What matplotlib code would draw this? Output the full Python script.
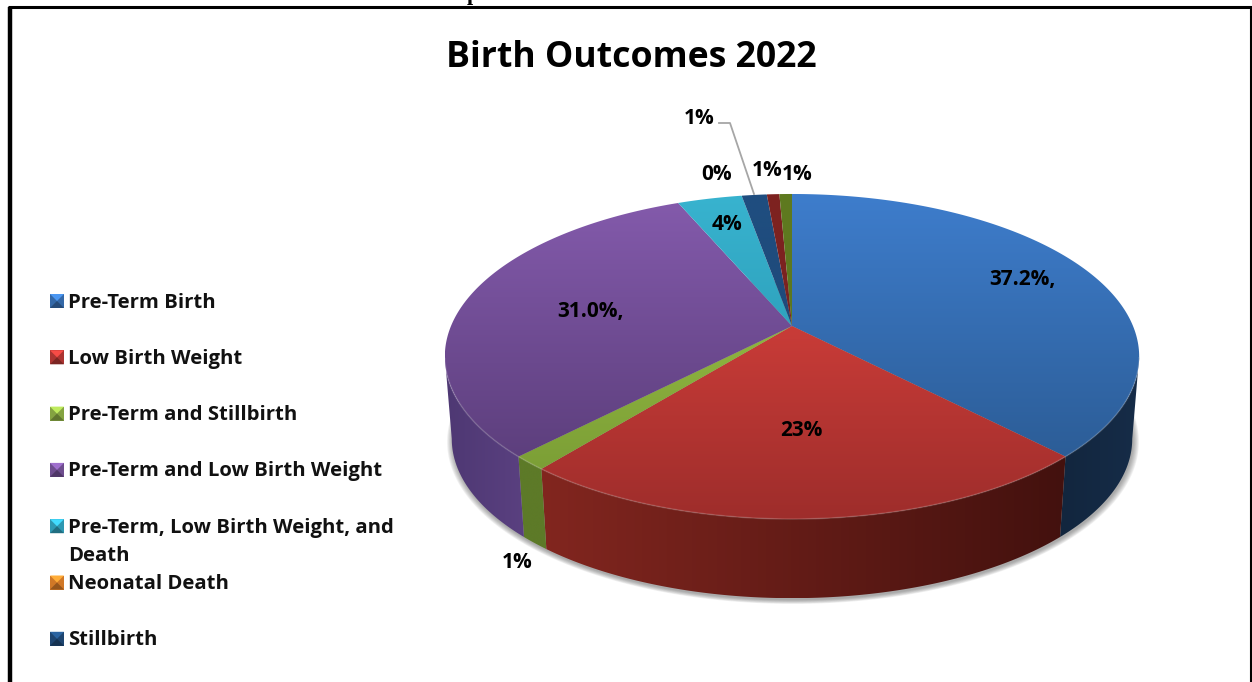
import numpy as np
import matplotlib
matplotlib.use("Agg")
import matplotlib.pyplot as plt
from matplotlib.colors import to_rgb
from matplotlib.patches import Polygon

# ---- data ----
title = "Birth Outcomes 2022"
legend_labels = ["Pre-Term Birth", "Low Birth Weight", "Pre-Term and Stillbirth",
                 "Pre-Term and Low Birth Weight",
                 "Pre-Term, Low Birth Weight, and\nDeath", "Neonatal Death", "Stillbirth"]
slice_values = [37.8, 23.0, 1.4, 31.4, 3.6, 0.0, 1.4, 0.7, 0.7]
value_labels = ["37.2%,", "23%", "1%", "31.0%,", "4%", "0%", "1%", "1%", "1%"]

# ---- style ----
FONT = "Open Sans"
top_light = ["#3E7DCC", "#C93C38", "#8FB540", "#835AAB", "#38B3CF", "#E8862C", "#1F4E80", "#7E2320", "#5F7A20"]
top_dark = ["#2C5D97", "#9E2D2B", "#7C9F36", "#5D3F7D", "#2FA3BE", "#D07420", "#1F4A7A", "#7A2220", "#5C771F"]
side_left = ["#12263E", "#82261F", "#5D7A28", "#4E3873", "#1F7085", "#8A4A10", "#12263E", "#4A100E", "#3D4F14"]
side_right = ["#162C48", "#43110E", "#5D7A28", "#5A4080", "#1F7085", "#8A4A10", "#12263E", "#4A100E", "#3D4F14"]
legend_colors = ["#3A74BA", "#BE3A36", "#93B548", "#7A559E", "#33A9C6", "#E8852B", "#214D7C"]
label_pos = [(1022, 279), (801, 431), (517, 562), (590, 311), (727, 224),
             (717, 174), (699, 118), (767, 171), (797, 174)]

# projective view of the unit disc
CX, CY, A, B, K = 792.0, 326.0, 341.0, 156.8, 0.1877
SHRINK, DROP = 0.98, 83.0


def rim(theta, scale=1.0):
    u, v = np.sin(theta) * scale, np.cos(theta) * scale
    w = 1 + K * v
    return CX + A * u / w, CY - B * v / w


def base(theta, scale=1.0):
    x, y = rim(theta, scale)
    return CX + (x - CX) * SHRINK, CY + DROP + (y - CY) * SHRINK


fig = plt.figure(figsize=(12.52, 6.82), dpi=100)
ax = fig.add_axes([0, 0, 1, 1])
ax.axis("off")


def grad_fill(xs, ys, c0, c1, vertical=True, zorder=2):
    x0, x1 = (xs.min(), xs.max())
    y0, y1 = (ys.min(), ys.max())
    t = np.linspace(0, 1, 128)
    rgb = np.outer(1 - t, to_rgb(c0)) + np.outer(t, to_rgb(c1))
    img = rgb[:, None, :] if vertical else rgb[None, :, :]
    im = ax.imshow(img, extent=(x0, x1, y1, y0), origin="upper", aspect="auto",
                   interpolation="bilinear", zorder=zorder)
    poly = Polygon(np.column_stack([xs, ys]), closed=True, transform=ax.transData,
                   fc="none", ec="none")
    ax.add_patch(poly)
    im.set_clip_path(poly)


# soft shadow
full = np.linspace(0, 2 * np.pi, 400)
for i, s in enumerate(np.linspace(1.016, 1.0, 7)):
    bx, by = base(full, s)
    ax.fill(bx + 1, by + 2, color="#555555", alpha=0.09, lw=0, zorder=1)

fractions = np.array(slice_values) / sum(slice_values)
edges = np.concatenate([[0], np.cumsum(fractions)]) * 2 * np.pi
# the wall is visible between the two horizontal extremes of the rim
EXT = np.arccos(-K)
VIS0, VIS1 = EXT, 2 * np.pi - EXT

# side walls
for i in range(len(slice_values)):
    a0, a1 = max(edges[i], VIS0), min(edges[i + 1], VIS1)
    if a1 <= a0:
        continue
    th = np.linspace(a0, a1, 120)
    tx, ty = rim(th)
    bx, by = base(th)
    xs = np.concatenate([tx, bx[::-1]])
    ys = np.concatenate([ty, by[::-1]])
    grad_fill(xs, ys, side_left[i], side_right[i], vertical=False, zorder=2)

# top faces
for i in range(len(slice_values)):
    if fractions[i] == 0:
        continue
    th = np.linspace(edges[i], edges[i + 1], 160)
    tx, ty = rim(th)
    xs = np.concatenate([[CX], tx])
    ys = np.concatenate([[CY], ty])
    grad_fill(xs, ys, top_light[i], top_dark[i], vertical=True, zorder=3)
    # lit bevel along the front of the rim
    front = (th > VIS0) & (th < VIS1)
    if front.any():
        ax.plot(tx[front], ty[front], color="white", alpha=0.14, lw=1.2, zorder=4,
                solid_capstyle="butt")

# leader line
ax.plot([719, 730, 754], [123, 123, 194], color="#A6A6A6", lw=1.3, zorder=5)

# value labels
for (lx, ly), txt in zip(label_pos, value_labels):
    ax.text(lx, ly, txt, ha="center", va="center", fontsize=15, fontweight="bold",
            family=FONT, color="black", zorder=6)

# legend
for i, (lab, col) in enumerate(zip(legend_labels, legend_colors)):
    yc = 301 + 56.3 * i
    x0, x1, y0, y1 = 50, 64, yc - 7, yc + 7
    xm, ym = (x0 + x1) / 2, (y0 + y1) / 2
    c = np.array(to_rgb(col))
    ax.fill([x0, x1, x1, x0], [y0, y0, y1, y1], color=c * 0.9, lw=0, zorder=5)
    ax.fill([x0, x1, xm], [y0, y0, ym], color=np.clip(c * 1.3, 0, 1), lw=0, zorder=6)
    ax.fill([x0, x1, xm], [y1, y1, ym], color=c * 0.65, lw=0, zorder=6)
    for j, part in enumerate(lab.split("\n")):
        ax.text(68, yc + 1.5 + j * 28.5, part, ha="left", va="center", fontsize=14.6,
                fontweight="bold", family=FONT, color="#111111", zorder=6)

# title
ax.text(631, 58, title, ha="center", va="center", fontsize=25.7, fontweight="bold",
        family=FONT, color="black", zorder=6)

# descender of the page text cut off above the chart
ax.text(473, 0, "p", ha="center", va="baseline", fontsize=16, fontweight="bold",
        family="Liberation Serif", color="black", zorder=6)

# frame of the clipped page
ax.plot([9.5, 9.5], [682, 7], color="black", lw=3.2, zorder=7, solid_capstyle="butt")
ax.plot([8, 1252], [7, 7], color="black", lw=2.2, zorder=7, solid_capstyle="butt")
ax.plot([1250.5, 1250.5], [7, 682], color="black", lw=1.5, zorder=7, solid_capstyle="butt")

ax.set_xlim(0, 1252)
ax.set_ylim(682, 0)
fig.savefig("out.png", dpi=100, facecolor="white")
